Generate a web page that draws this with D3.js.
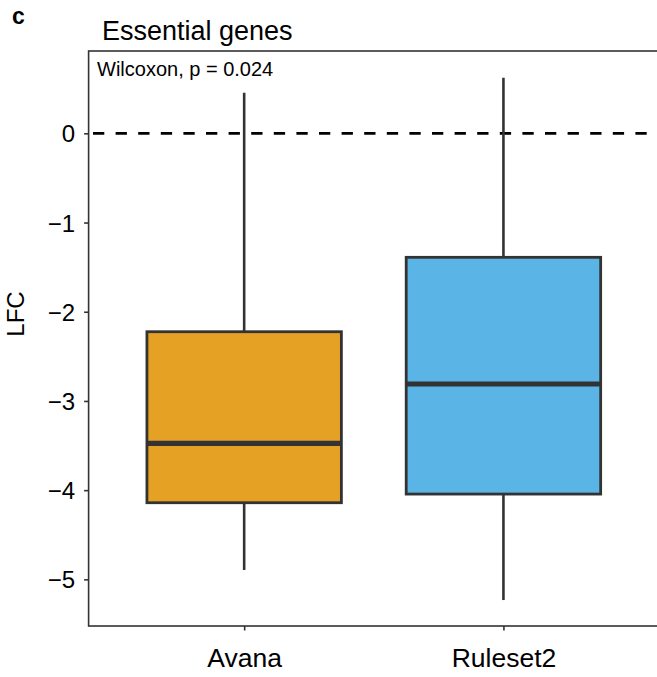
<!DOCTYPE html>
<html>
<head>
<meta charset="utf-8">
<script src="https://cdn.jsdelivr.net/npm/d3@7"></script>
<style>
  body { margin: 0; background: #fff; }
  text { font-family: "Liberation Sans", Arial, Helvetica, sans-serif; }
</style>
</head>
<body>
<svg id="chart"></svg>
<script>
// Chart values
const groups = ["Avana", "Ruleset2"];
const fills = ["#E4A124", "#5AB4E6"];
const whiskerLow = [-4.895, -5.232];
const lowerHinge = [-4.141, -4.044];
const medians = [-3.475, -2.81];
const upperHinge = [-2.224, -1.39];
const whiskerHigh = [0.455, 0.623];
const yTicks = [0, -1, -2, -3, -4, -5];
const pLabel = "Wilcoxon, p = 0.024";

const width = 657;
const height = 677;

// Panel box (right edge runs past the picture, as in the figure)
const panel = { left: 88.6, right: 659, top: 51, bottom: 626 };

const svg = d3.select("#chart")
    .attr("width", width)
    .attr("height", height);

// Scales
const x = d3.scalePoint()
    .domain(groups)
    .range([panel.left, panel.right])
    .padding(0.6);

const y = d3.scaleLinear()
    .domain([-5.523, 0.923])
    .range([panel.bottom, panel.top]);

const boxWidth = x.step() * 0.75;
const ink = "#333333";

// Panel border
svg.append("rect")
    .attr("x", panel.left)
    .attr("y", panel.top)
    .attr("width", panel.right - panel.left)
    .attr("height", panel.bottom - panel.top)
    .attr("fill", "none")
    .attr("stroke", ink)
    .attr("stroke-width", 1.6);

// Reference line at zero
svg.append("line")
    .attr("x1", panel.left)
    .attr("x2", panel.right)
    .attr("y1", y(0))
    .attr("y2", y(0))
    .attr("stroke", "#000")
    .attr("stroke-width", 2.6)
    .attr("stroke-dasharray", "11.3,11.3")
    .attr("stroke-dashoffset", 18.2);

// Boxes
const boxes = svg.append("g").selectAll("g")
    .data(groups)
    .join("g");

boxes.append("line")
    .attr("x1", d => x(d)).attr("x2", d => x(d))
    .attr("y1", (d, i) => y(upperHinge[i]))
    .attr("y2", (d, i) => y(whiskerHigh[i]))
    .attr("stroke", ink).attr("stroke-width", 2.6);

boxes.append("line")
    .attr("x1", d => x(d)).attr("x2", d => x(d))
    .attr("y1", (d, i) => y(lowerHinge[i]))
    .attr("y2", (d, i) => y(whiskerLow[i]))
    .attr("stroke", ink).attr("stroke-width", 2.6);

boxes.append("rect")
    .attr("x", d => x(d) - boxWidth / 2)
    .attr("width", boxWidth)
    .attr("y", (d, i) => y(upperHinge[i]))
    .attr("height", (d, i) => y(lowerHinge[i]) - y(upperHinge[i]))
    .attr("fill", (d, i) => fills[i])
    .attr("stroke", ink)
    .attr("stroke-width", 2.8);

boxes.append("line")
    .attr("x1", d => x(d) - boxWidth / 2)
    .attr("x2", d => x(d) + boxWidth / 2)
    .attr("y1", (d, i) => y(medians[i]))
    .attr("y2", (d, i) => y(medians[i]))
    .attr("stroke", ink).attr("stroke-width", 5.2);

// Y axis ticks and labels
const yAxis = svg.append("g")
    .attr("transform", `translate(${panel.left},0)`)
    .call(d3.axisLeft(y).tickValues(yTicks).tickSize(4.5).tickPadding(9).tickFormat(d3.format("d")));
yAxis.select(".domain").remove();
yAxis.selectAll(".tick line").attr("stroke", ink).attr("stroke-width", 1.6);
yAxis.selectAll(".tick text")
    .attr("fill", "#000")
    .style("font-size", "24px")
    .attr("dy", "0.36em");

// X axis ticks and labels
const xAxis = svg.append("g")
    .attr("transform", `translate(0,${panel.bottom})`)
    .call(d3.axisBottom(x).tickSize(4.5).tickPadding(0));
xAxis.select(".domain").remove();
xAxis.selectAll(".tick line").attr("stroke", ink).attr("stroke-width", 1.6);
xAxis.selectAll(".tick text")
    .attr("fill", "#000")
    .style("font-size", "26.5px")
    .attr("y", 41)
    .attr("dy", 0);

// Axis title
svg.append("text")
    .attr("transform", "translate(24,314) rotate(-90)")
    .attr("text-anchor", "middle")
    .style("font-size", "24px")
    .text("LFC");

// Title, panel tag and test label
svg.append("text")
    .attr("x", 102).attr("y", 40)
    .style("font-size", "27px")
    .text("Essential genes");

svg.append("text")
    .attr("x", 12).attr("y", 24)
    .style("font-size", "23px")
    .style("font-weight", "bold")
    .text("c");

svg.append("text")
    .attr("x", 97).attr("y", 76)
    .style("font-size", "20px")
    .text(pLabel);
</script>
</body>
</html>
